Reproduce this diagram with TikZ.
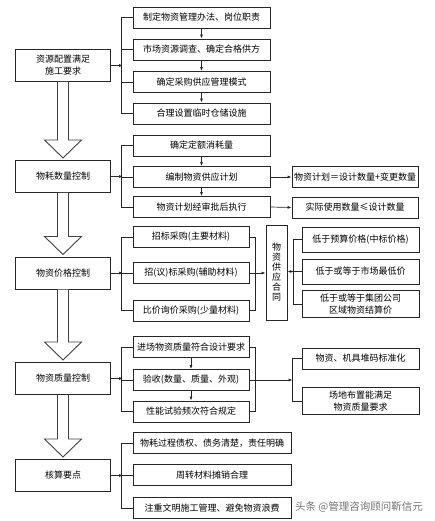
\documentclass[tikz,border=0pt]{standalone}
\usepackage{fontspec}
\setmainfont{Noto Sans CJK SC}
\usepackage{tikz}
\usetikzlibrary{arrows.meta,positioning,calc}
\tikzset{
  mainbox/.style ={draw=black!85,line width=1pt,minimum width=95pt,minimum height=32pt,
                   align=center,font=\fontsize{9}{12}\selectfont},
  stepbox/.style ={draw=black!85,line width=0.9pt,minimum height=21pt,inner xsep=1pt,
                   align=center,font=\fontsize{9}{12}\selectfont},
  wide/.style    ={minimum width=137pt},
  narrow/.style  ={minimum width=116pt},
  longbox/.style ={minimum width=158pt},
  sidebox/.style ={minimum width=126pt},
  outbox/.style  ={minimum width=117pt},
  link/.style    ={black!85,line width=0.7pt},
  arr/.style     ={link,-{Latex[length=4pt,width=3pt]}},
  hollow/.style  ={draw=black!75,line width=0.9pt,fill=white,line join=miter},
  wmark/.style   ={text=black!55,font=\fontsize{10.5}{12}\selectfont,inner sep=0pt},
}
\begin{document}
\begin{tikzpicture}[x=1pt,y=-1pt]
  \useasboundingbox (0,0) rectangle (435,521);
  % left column
  \node[mainbox] (m1) at (63,65.5)  {资源配置满足\\施工要求};
  \node[mainbox] (m2) at (63,176.5) {物耗数量控制};
  \node[mainbox] (m3) at (63,273)   {物资价格控制};
  \node[mainbox] (m4) at (63,378.5) {物资质量控制};
  \node[mainbox] (m5) at (63,475.5) {核算要点};
  \foreach \a/\b in {m1/m2,m2/m3,m3/m4,m4/m5}{
     \draw[hollow] ($(\a.south)+(-5.5,0)$) -- ($(\b.north)+(-5.5,-20)$)
        -- ($(\b.north)+(-18.5,-20)$) -- ($(\b.north)+(0,-2)$)
        -- ($(\b.north)+(18.5,-20)$) -- ($(\b.north)+(5.5,-20)$)
        -- ($(\a.south)+(5.5,0)$);
  }

  % stage 1
  \node[stepbox,wide] (s11) at (201.5,17.5)  {制定物资管理办法、岗位职责};
  \node[stepbox,wide] (s12) at (201.5,49.5)  {市场资源调查、确定合格供方};
  \node[stepbox,wide] (s13) at (201.5,82)    {确定采购供应管理模式};
  \node[stepbox,wide] (s14) at (201.5,113.5) {合理设置临时仓储设施};
  \coordinate (j1) at ($(m1.east)+(12,0)$);
  \draw[arr] (m1.east) -- (j1);
  \draw[link] (s11.west) -- ++(-11,0) |- (s14.west);
  \foreach \s in {s12,s13} \draw[link] (\s.west) -- ++(-11,0);
  \foreach \a/\b in {s11/s12,s12/s13,s13/s14} \draw[arr] (\a) -- (\b);

  % stage 2
  \node[stepbox,wide] (s21) at (201.5,145.5) {确定定额消耗量};
  \node[stepbox,wide] (s22) at (201.5,177)   {编制物资供应计划};
  \node[stepbox,wide] (s23) at (201.5,207)   {物资计划经审批后执行};
  \node[stepbox,sidebox] (f21) at (355,177)   {物资计划＝设计数量+变更数量};
  \node[stepbox,sidebox] (f22) at (355,207.5) {实际使用数量≤设计数量};
  \coordinate (j2) at ($(m2.east)+(12,0)$);
  \draw[arr] (m2.east) -- (j2);
  \draw[link] (s21.west) -- ++(-11,0) |- (s23.west);
  \draw[link] (s22.west) -- ++(-11,0);
  \foreach \a/\b in {s21/s22,s22/s23} \draw[arr] (\a) -- (\b);
  \draw[arr] (s22.east) -- (f21.west);
  \draw[arr] (s23.east) -- (f22.west);

  % stage 3
  \node[stepbox,narrow] (s31) at (191,237)   {招标采购(主要材料)};
  \node[stepbox,narrow] (s32) at (191,273)   {招(议)标采购(辅助材料)};
  \node[stepbox,narrow] (s33) at (191,310.5) {比价询价采购(少量材料)};
  \node[draw=black!85,line width=0.9pt,minimum width=21pt,minimum height=95pt,inner sep=1pt,
        align=center,font=\fontsize{9}{10}\selectfont] (ht) at (276.5,272.5)
        {物\\资\\供\\应\\合\\同};
  \node[stepbox,outbox,minimum height=25pt] (g1) at (360.5,239.5) {低于预算价格(中标价格)};
  \node[stepbox,outbox,minimum height=25pt] (g2) at (360.5,271.5) {低于或等于市场最低价};
  \node[stepbox,outbox,minimum height=26pt] (g3) at (360.5,304)   {低于或等于集团公司\\区域物资结算价};
  \coordinate (j3a) at ($(m3.east)+(12,0)$);
  \draw[arr] (m3.east) -- (j3a);
  \draw[link] (s31.west) -- ++(-11,0) |- (s33.west);
  \draw[link] (s32.west) -- ++(-11,0);
  \draw[link] (s31.east) -- ++(6,0) |- (s33.east);
  \draw[arr] (s32.east) -- (ht.west |- s32.east);
  \draw[link] (g1.west) -- ++(-8,0) |- (g3.west);
  \coordinate (j3b) at ($(g2.west)+(-8,0)$);
  \draw[link] (g2.west) -- (j3b);
  \draw[arr] (j3b) -- (ht.east |- j3b);

  % stage 4
  \node[stepbox,narrow] (s41) at (191,347)   {进场物资质量符合设计要求};
  \node[stepbox,narrow] (s42) at (191,380)   {验收(数量、质量、外观)};
  \node[stepbox,narrow] (s43) at (191,411.5) {性能试验频次符合规定};
  \node[stepbox,outbox] (h1) at (360.5,358.5) {物资、机具堆码标准化};
  \node[stepbox,outbox,minimum height=22pt] (h2) at (360.5,401) {场地布置能满足\\物资质量要求};
  \coordinate (j4a) at ($(m4.east)+(12,0)$);
  \draw[arr] (m4.east) -- (j4a);
  \draw[link] (s41.west) -- ++(-11,0) |- (s43.west);
  \draw[link] (s42.west) -- ++(-11,0);
  \foreach \a/\b in {s41/s42,s42/s43} \draw[arr] (\a) -- (\b);
  \draw[link] (s41.east) -- ++(6,0) |- (s43.east);
  \coordinate (j4b) at (h1.west |- s42.east);
  \coordinate (j4b) at ($(j4b)+(-9,0)$);
  \draw[arr] (s42.east) -- (j4b);
  \draw[link] (h1.west) -- ++(-9,0) |- (h2.west);

  % stage 5
  \node[stepbox,longbox] (s51) at (212,443) {物耗过程债权、债务清楚，责任明确};
  \node[stepbox,longbox] (s52) at (212,475) {周转材料摊销合理};
  \node[stepbox,longbox] (s53) at (212,508) {注重文明施工管理、避免物资浪费};
  \coordinate (j5) at ($(m5.east)+(12,0)$);
  \draw[arr] (m5.east) -- (j5);
  \draw[link] (s51.west) -- ++(-11,0) |- (s53.west);
  \draw[link] (s52.west) -- ++(-11,0);

  \node[wmark] (wm) at (359,507) {头条 @管理咨询顾问靳信元};
\end{tikzpicture}
\end{document}
